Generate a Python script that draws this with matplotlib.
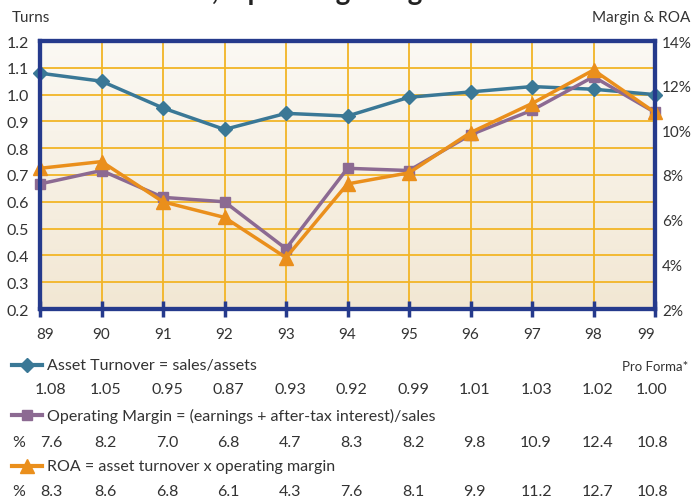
import matplotlib.pyplot as plt
import matplotlib.transforms as mtransforms
from matplotlib.colors import LinearSegmentedColormap
from matplotlib.lines import Line2D
import numpy as np

plt.rcParams['font.family'] = ['Lato', 'DejaVu Sans']

years = [89, 90, 91, 92, 93, 94, 95, 96, 97, 98, 99]
year_labels = ['89', '90', '91', '92', '93', '94', '95', '96', '97', '98', '99']
asset_turnover = [1.08, 1.05, 0.95, 0.87, 0.93, 0.92, 0.99, 1.01, 1.03, 1.02, 1.00]
operating_margin = [7.6, 8.2, 7.0, 6.8, 4.7, 8.3, 8.2, 9.8, 10.9, 12.4, 10.8]
roa = [8.3, 8.6, 6.8, 6.1, 4.3, 7.6, 8.1, 9.9, 11.2, 12.7, 10.8]

turn_ticks = [0.2, 0.3, 0.4, 0.5, 0.6, 0.7, 0.8, 0.9, 1.0, 1.1, 1.2]
pct_ticks = [2, 4, 6, 8, 10, 12, 14]

C_TURN = '#3a7896'
C_MARG = '#8c6a92'
C_ROA = '#ea8f1c'
C_GRID = '#f2b526'
C_SPINE = '#253a8c'
C_TEXT = '#333333'
FS = 11

W, H = 692, 502
fig = plt.figure(figsize=(W / 100, H / 100), dpi=100)

def fx(x):
    return x / W

def fy(y):
    return 1 - y / H

def shift(px):
    # horizontal nudge in pixels
    return mtransforms.ScaledTranslation(px / 100, 0, fig.dpi_scale_trans)

ax = fig.add_axes([fx(40), fy(310), fx(655) - fx(40), fy(42) - fy(310)])
ax2 = ax.twinx()

# soft vertical gradient behind the plot
grad = np.linspace(0, 1, 256).reshape(-1, 1)
bg = LinearSegmentedColormap.from_list('bg', ['#fbf9f4', '#f2e7d3'])
ax.imshow(grad, cmap=bg, aspect='auto', extent=[0, 1, 0, 1],
          transform=ax.transAxes, zorder=0)

ax.set_xlim(89, 99)
ax.set_ylim(0.2, 1.2)
ax2.set_ylim(2, 14)

for y in turn_ticks[1:-1]:
    ax.axhline(y, color=C_GRID, lw=1.3, zorder=1)
for x in years[1:-1]:
    ax.axvline(x, color=C_GRID, lw=1.3, zorder=1)

ax.plot(years, asset_turnover, color=C_TURN, lw=2.5, marker='D', ms=7.5,
        clip_on=False, zorder=5)
ax2.plot(years, operating_margin, color=C_MARG, lw=2.5, marker='s', ms=7.5,
         clip_on=False, zorder=5)
ax2.plot(years, roa, color=C_ROA, lw=2.5, marker='^', ms=10,
         clip_on=False, zorder=6)

for a in (ax, ax2):
    for s in a.spines.values():
        s.set_color(C_SPINE)
        s.set_linewidth(3)
        s.set_zorder(10)

ax.set_xticks(years)
ax.set_xticklabels(year_labels, fontsize=FS, color=C_TEXT)
ax.tick_params(axis='x', direction='inout', length=12, width=2.5,
               color=C_SPINE, pad=7)
# pull the first and last year labels inward a little
xt = ax.get_xticklabels()
xt[0].set_transform(xt[0].get_transform() + shift(5))
xt[-1].set_transform(xt[-1].get_transform() + shift(-9))

ax.set_yticks(turn_ticks)
ax.set_yticklabels(['%.1f' % t for t in turn_ticks], fontsize=FS + 0.5, color=C_TEXT)
ax.tick_params(axis='y', length=0, pad=8)
ax2.set_yticks(pct_ticks)
ax2.set_yticklabels(['%d%%' % t for t in pct_ticks], fontsize=FS, color=C_TEXT)
ax2.tick_params(axis='y', length=0, pad=5)

fig.text(fx(12), fy(18), 'Turns', fontsize=FS, color=C_TEXT, va='center')
fig.text(fx(690), fy(18), 'Margin & ROA', fontsize=FS, color=C_TEXT,
         va='center', ha='right')
# heading sits above the top edge; only its descenders show
fig.text(fx(22), fy(0), 'Asset Turnover, Operating Margin & ROA',
         fontsize=20, fontweight='bold', color='#222222', va='baseline')

# legend rows with the yearly values underneath
col = mtransforms.blended_transform_factory(ax.transData, fig.transFigure)
rows = [
    ('Asset Turnover = sales/assets', C_TURN, 'D', 7, asset_turnover, '%.2f', '', 366, 390),
    ('Operating Margin = (earnings + after-tax interest)/sales', C_MARG, 's', 7, operating_margin, '%.1f', '%', 416, 443),
    ('ROA = asset turnover x operating margin', C_ROA, '^', 10, roa, '%.1f', '%', 467, 492),
]
n = len(years)
for label, c, m, ms, vals, fmt, unit, ly, vy in rows:
    fig.add_artist(Line2D([fx(12), fx(42)], [fy(ly), fy(ly)], color=c, lw=3,
                          transform=fig.transFigure))
    fig.add_artist(Line2D([fx(27)], [fy(ly)], color=c, marker=m, ms=ms,
                          transform=fig.transFigure))
    fig.text(fx(47), fy(ly), label, fontsize=FS + 0.5, color=C_TEXT, va='center')
    if unit:
        fig.text(fx(12), fy(vy), unit, fontsize=FS + 0.5, color=C_TEXT, va='center')
    for i, (yr, v) in enumerate(zip(years, vals)):
        dx = 11 if i == 0 else (-3 if i == n - 1 else 4)
        fig.text(yr, fy(vy), fmt % v, transform=col + shift(dx),
                 fontsize=FS + 0.5, color=C_TEXT, va='center', ha='center')

fig.text(fx(688), fy(367), 'Pro Forma*', fontsize=9.5, color=C_TEXT,
         va='center', ha='right')

fig.savefig('out.png', dpi=100)
